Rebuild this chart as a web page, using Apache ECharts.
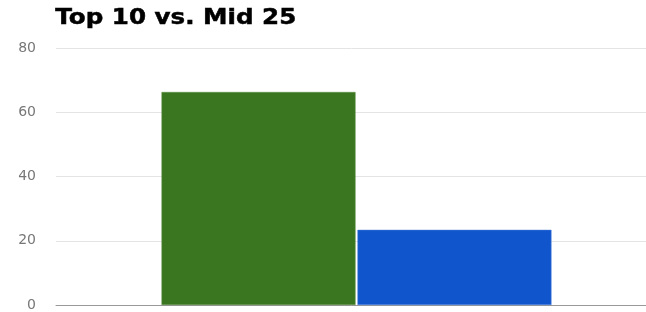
<!DOCTYPE html>
<html>
	<head>
		<meta charset="utf-8" />
		<script src="https://cdn.jsdelivr.net/npm/echarts@6/dist/echarts.min.js"></script>
		<title>Top 10 vs. Mid 25</title>
		<style>
			* { margin: 0; padding: 0; }
			body { background: #fff; }
			#chart { width: 646px; height: 312px; }
		</style>
	</head>
	<body>
		<div id="chart"></div>
		<script>
			var categories = [''];
			var seriesNames = ['Top 10', 'Mid 25'];
			var top10 = [66.3];
			var mid25 = [23.4];
			var yTicks = [0, 20, 40, 60, 80];

			var chart = echarts.init(document.getElementById('chart'));
			chart.setOption({
				animation: false,
				// title drawn as graphic text so it can be widened like the source
				graphic: [{
					type: 'text',
					left: 55,
					top: 8,
					scaleX: 1.17,
					style: {
						text: 'Top 10 vs. Mid 25',
						fill: '#000',
						fontSize: 21,
						fontWeight: 'bold',
						fontFamily: 'DejaVu Sans',
						stroke: '#000',
						lineWidth: 0.5
					}
				}],
				grid: { left: 56, right: -11, top: 48, bottom: 7, outerBoundsMode: 'none' },
				xAxis: {
					type: 'category',
					data: categories,
					axisLine: { lineStyle: { color: '#999', width: 1 } },
					axisTick: { show: false },
					axisLabel: { show: false }
				},
				yAxis: {
					type: 'value',
					min: yTicks[0],
					max: yTicks[yTicks.length - 1],
					interval: 20,
					axisLine: { show: false },
					axisTick: { show: false },
					axisLabel: { color: '#777', fontSize: 14, margin: 20, fontFamily: 'DejaVu Sans' },
					splitLine: { lineStyle: { color: '#e4e4e4' } }
				},
				series: [{
					name: seriesNames[0],
					type: 'bar',
					data: top10,
					barWidth: 194,
					barGap: '1%',
					itemStyle: { color: '#3a761f', borderColor: '#5a8c45', borderWidth: 0.5 }
				}, {
					name: seriesNames[1],
					type: 'bar',
					data: mid25,
					barWidth: 194,
					itemStyle: { color: '#1155cc', borderColor: '#4a7fd6', borderWidth: 0.5 }
				}]
			});
		</script>
	</body>
</html>
